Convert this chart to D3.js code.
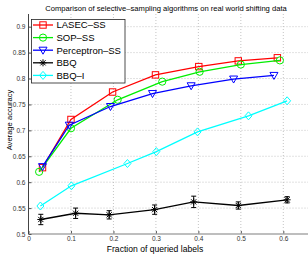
<!DOCTYPE html>
<html>
<head>
<meta charset="utf-8">
<script src="https://cdn.jsdelivr.net/npm/d3@7"></script>
<style>
    body { margin: 0; background: #fff; }
    svg { display: block; font-family: "Liberation Sans", Arial, sans-serif; }
</style>
</head>
<body>
<svg id="chart"></svg>
<script>
// series names, in legend order
const seriesNames = ['LASEC–SS', 'SOP–SS', 'Perceptron–SS', 'BBQ', 'BBQ–I'];

// fraction of queried labels (each algorithm queried a slightly different fraction)
const lasecX = [0.033, 0.100, 0.198, 0.299, 0.401, 0.494, 0.586];
const lasecY = [0.628, 0.721, 0.774, 0.807, 0.823, 0.834, 0.840];

const sopX = [0.025, 0.100, 0.210, 0.315, 0.403, 0.500, 0.592];
const sopY = [0.620, 0.704, 0.759, 0.794, 0.813, 0.827, 0.835];

const perceptronX = [0.033, 0.096, 0.193, 0.292, 0.383, 0.483, 0.578];
const perceptronY = [0.630, 0.710, 0.746, 0.771, 0.786, 0.799, 0.806];

const bbqX = [0.029, 0.111, 0.190, 0.297, 0.389, 0.494, 0.609];
const bbqY = [0.528, 0.540, 0.537, 0.547, 0.562, 0.555, 0.566];
const bbqErr = [0.010, 0.010, 0.008, 0.009, 0.011, 0.007, 0.006];

const bbqiX = [0.028, 0.101, 0.233, 0.301, 0.398, 0.518, 0.609];
const bbqiY = [0.554, 0.593, 0.636, 0.659, 0.697, 0.728, 0.757];

const xTicks = [0, 0.1, 0.2, 0.3, 0.4, 0.5, 0.6];
const yTicks = [0.5, 0.55, 0.6, 0.65, 0.7, 0.75, 0.8, 0.85, 0.9];

const config = {
    width: 308,
    height: 255,
    left: 28.5,
    right: 308,
    top: 14,
    bottom: 234,
    tickFont: 6.5,
    xLabelFont: 8.6,
    yLabelFont: 7.6,
    titleFont: 7.6,
    legendFont: 9.5
}

const series = [
    { name: seriesNames[0], color: '#ff0000', marker: 'square', x: lasecX, y: lasecY },
    { name: seriesNames[1], color: '#00ee00', marker: 'circle', x: sopX, y: sopY },
    { name: seriesNames[2], color: '#0000ff', marker: 'triangle', x: perceptronX, y: perceptronY },
    { name: seriesNames[3], color: '#000000', marker: 'star', x: bbqX, y: bbqY, err: bbqErr },
    { name: seriesNames[4], color: '#00ffff', marker: 'diamond', x: bbqiX, y: bbqiY }
];

const svg = d3.select('#chart')
    .attr('width', config.width)
    .attr('height', config.height);

// x: 0 -> 28.5px, 0.6 -> 283.3px
const xScale = d3.scaleLinear()
    .domain([0, 0.6])
    .range([config.left, 283.3]);

const yScale = d3.scaleLinear()
    .domain([0.5, 0.9])
    .range([config.bottom, 26.7]);

// dotted grid
const grid = svg.append('g');
grid.selectAll('.vgrid')
    .data(xTicks.slice(1))
    .enter()
    .append('line')
    .attr('x1', d => xScale(d)).attr('x2', d => xScale(d))
    .attr('y1', config.top).attr('y2', config.bottom)
    .attr('stroke', '#b5b5b5').attr('stroke-width', 0.8)
    .attr('stroke-dasharray', '1,2');
grid.selectAll('.hgrid')
    .data(yTicks.slice(1))
    .enter()
    .append('line')
    .attr('x1', config.left).attr('x2', config.right)
    .attr('y1', d => yScale(d)).attr('y2', d => yScale(d))
    .attr('stroke', '#b5b5b5').attr('stroke-width', 0.8)
    .attr('stroke-dasharray', '1,2');

// axes
const xAxis = d3.axisBottom(xScale)
    .tickValues(xTicks)
    .tickSize(-3)
    .tickPadding(2.5)
    .tickFormat(d3.format('~g'));
const xAxisG = svg.append('g')
    .attr('transform', `translate(0, ${config.bottom})`)
    .call(xAxis);
xAxisG.select('.domain').remove();
xAxisG.append('line')
    .attr('x1', config.left).attr('x2', config.right)
    .attr('stroke', '#a8a8a8').attr('stroke-width', 1.6);
xAxisG.selectAll('.tick line').attr('stroke', '#555');
xAxisG.selectAll('text')
    .style('font-size', config.tickFont + 'px')
    .attr('fill', '#333');

const yAxis = d3.axisLeft(yScale)
    .tickValues(yTicks)
    .tickSize(-3)
    .tickPadding(3)
    .tickFormat(d3.format('~g'));
const yAxisG = svg.append('g')
    .attr('transform', `translate(${config.left}, 0)`)
    .call(yAxis);
yAxisG.select('.domain').remove();
yAxisG.append('line')
    .attr('y1', config.top).attr('y2', config.bottom)
    .attr('stroke', '#444').attr('stroke-width', 1);
yAxisG.selectAll('.tick line').attr('stroke', '#555');
yAxisG.selectAll('text')
    .style('font-size', config.tickFont + 'px')
    .attr('fill', '#333');

// labels
svg.append('text')
    .attr('x', 166)
    .attr('y', 10.5)
    .attr('text-anchor', 'middle')
    .style('font-size', config.titleFont + 'px')
    .text('Comparison of selective–sampling algorithms on real world shifting data');

svg.append('text')
    .attr('x', 155)
    .attr('y', 252)
    .attr('text-anchor', 'middle')
    .style('font-size', config.xLabelFont + 'px')
    .text('Fraction of queried labels');

svg.append('text')
    .attr('transform', 'translate(12, 120) rotate(-90)')
    .attr('text-anchor', 'middle')
    .style('font-size', config.yLabelFont + 'px')
    .text('Average accuracy');

function drawMarker(g, type, color) {
    if (type === 'square') {
        g.append('rect').attr('x', -3.2).attr('y', -3.2).attr('width', 6.4).attr('height', 6.4)
            .attr('fill', 'none').attr('stroke', color).attr('stroke-width', 1);
    } else if (type === 'circle') {
        g.append('circle').attr('r', 3.6)
            .attr('fill', 'none').attr('stroke', color).attr('stroke-width', 1);
    } else if (type === 'triangle') {
        g.append('path').attr('d', 'M-4,-3L4,-3L0,4Z')
            .attr('fill', 'none').attr('stroke', color).attr('stroke-width', 1);
    } else if (type === 'diamond') {
        g.append('path').attr('d', 'M0,-4L3.5,0L0,4L-3.5,0Z')
            .attr('fill', 'none').attr('stroke', color).attr('stroke-width', 1);
    } else if (type === 'star') {
        g.append('path').attr('d', 'M-3.5,0L3.5,0M0,-3.5L0,3.5M-2.6,-2.6L2.6,2.6M-2.6,2.6L2.6,-2.6')
            .attr('stroke', color).attr('stroke-width', 1);
    }
}

const line = d3.line()
    .x(d => xScale(d[0]))
    .y(d => yScale(d[1]));

series.forEach(s => {
    const pts = s.x.map((x, i) => [x, s.y[i], s.err ? s.err[i] : 0]);
    const g = svg.append('g');

    if (s.err) {
        const eb = g.selectAll('.err')
            .data(pts)
            .enter()
            .append('g')
            .attr('stroke', s.color).attr('stroke-width', 1);
        eb.append('line')
            .attr('x1', d => xScale(d[0])).attr('x2', d => xScale(d[0]))
            .attr('y1', d => yScale(d[1] - d[2])).attr('y2', d => yScale(d[1] + d[2]));
        eb.append('line')
            .attr('x1', d => xScale(d[0]) - 2.5).attr('x2', d => xScale(d[0]) + 2.5)
            .attr('y1', d => yScale(d[1] - d[2])).attr('y2', d => yScale(d[1] - d[2]));
        eb.append('line')
            .attr('x1', d => xScale(d[0]) - 2.5).attr('x2', d => xScale(d[0]) + 2.5)
            .attr('y1', d => yScale(d[1] + d[2])).attr('y2', d => yScale(d[1] + d[2]));
    }

    g.append('path')
        .datum(pts)
        .attr('d', line)
        .attr('fill', 'none')
        .attr('stroke', s.color)
        .attr('stroke-width', 1.3);

    g.selectAll('.mk')
        .data(pts)
        .enter()
        .append('g')
        .attr('transform', d => `translate(${xScale(d[0])}, ${yScale(d[1])})`)
        .each(function () { drawMarker(d3.select(this), s.marker, s.color); });
});

// legend
const legend = svg.append('g');
legend.append('rect')
    .attr('x', 31.5).attr('y', 19.5)
    .attr('width', 93.5).attr('height', 63.5)
    .attr('fill', '#fff')
    .attr('stroke', '#222').attr('stroke-width', 0.8);

const entries = legend.selectAll('.entry')
    .data(series)
    .enter()
    .append('g')
    .attr('transform', (d, i) => `translate(0, ${25 + i * 12.6})`);
entries.append('line')
    .attr('x1', 33).attr('x2', 53)
    .attr('stroke', d => d.color).attr('stroke-width', 1.3);
entries.append('g')
    .attr('transform', 'translate(43, 0)')
    .each(function (d) { drawMarker(d3.select(this), d.marker, d.color); });
entries.append('text')
    .attr('x', 56.5)
    .attr('y', 3.4)
    .style('font-size', config.legendFont + 'px')
    .text(d => d.name);
</script>
</body>
</html>
